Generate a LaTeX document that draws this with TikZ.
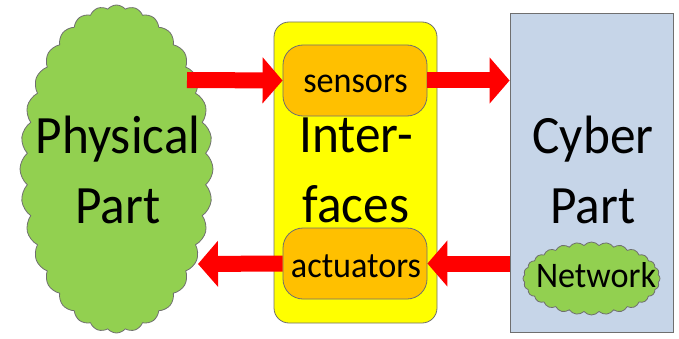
\documentclass[tikz,border=0pt]{standalone}
\usepackage{fontspec}
\setmainfont{Carlito}
\usepackage{tikz}
\definecolor{vert}{HTML}{92D050}
\definecolor{jaune}{HTML}{FFFF00}
\definecolor{orange}{HTML}{FFC000}
\definecolor{bleugris}{HTML}{C6D5E8}
\definecolor{rouge}{HTML}{FF0000}
\definecolor{contour}{HTML}{6F6F6F}
\usetikzlibrary{shapes.symbols,arrows.meta}

\tikzset{
  part/.style={cloud, cloud puffs=32, cloud puff arc=100, draw=contour, fill=vert, thick, inner sep=0pt},
  bigtext/.style={font=\fontsize{54}{70}\selectfont, align=center, inner sep=0pt, xscale=0.95, transform shape},
  smalltext/.style={font=\fontsize{36}{40}\selectfont, inner sep=0pt, anchor=base, xscale=0.95, transform shape},
  ifbox/.style={rectangle, rounded corners=20pt, draw=contour, fill=orange, thick,
    minimum width=144pt, minimum height=71pt},
  flow/.style={rouge, line width=16pt, -{Triangle[length=20pt,width=45pt]}}
}

\begin{document}
\begin{tikzpicture}[x=1pt,y=1pt]
  \useasboundingbox (0,0) rectangle (679,338);

  % physical side
  \node[
    part,
    minimum width=193pt,
    minimum height=328pt] at (116.5,169) (phys) {};

  \node[bigtext] at (118,168) (physl) {Physical\\Part};

  % interfaces
  \node[
    rectangle,
    rounded corners=15pt,
    minimum width=163pt,
    minimum height=301pt,
    draw=contour,
    fill=jaune,
    thick] at (355.5,165.5) (iface) {};

  \node[bigtext] at (356,168) (ifacel) {Inter-\\faces};

  \node[ifbox] at (355,257.5) (sen) {};
  \node[smalltext] at (355.5,246) (senl) {sensors};

  \node[ifbox] at (355,74.5) (act) {};
  \node[smalltext] at (356,61) (actl) {actuators};

  % cyber side
  \node[
    rectangle,
    minimum width=163pt,
    minimum height=319pt,
    draw=contour,
    fill=bleugris,
    thick] at (591.5,165.5) (cyber) {};

  \node[bigtext] at (593,168) (cyberl) {Cyber\\Part};

  \node[
    part,
    cloud puffs=28,
    minimum width=137pt,
    minimum height=73pt] at (591.5,59.5) (net) {};

  \node[smalltext] at (596,51) (netl) {Network};

  % arrows
  \coordinate (pin) at (187,258);
  \coordinate (pout) at (198,74);

  \draw[flow] (pin) -- (sen.west);
  \draw[flow] (sen.east) -- (sen.east -| cyber.west);
  \draw[flow] (act.east -| cyber.west) -- (act.east);
  \draw[flow] (act.west) -- (pout);

\end{tikzpicture}
\end{document}
